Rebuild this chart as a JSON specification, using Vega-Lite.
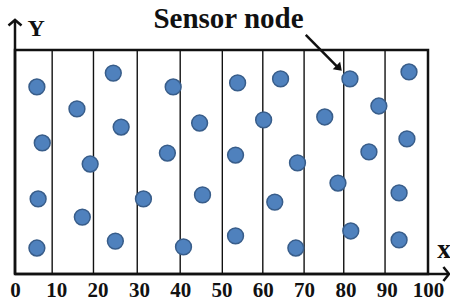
{
  "$schema": "https://vega.github.io/schema/vega-lite/v6.json",
  "width": 413,
  "height": 224,
  "autosize": {"type": "none"},
  "padding": {"left": 15, "top": 50, "right": 22, "bottom": 29},
  "background": "white",
  "config": {
    "view": {"stroke": "#111111", "strokeWidth": 2.5},
    "axis": {"grid": false}
  },
  "datasets": {
    "nodes": [
      {"x": 5.3, "y": 83.5}, {"x": 23.8, "y": 89.7}, {"x": 38.3, "y": 83.5}, {"x": 53.9, "y": 85.3},
      {"x": 64.3, "y": 87.1}, {"x": 81.1, "y": 87.1}, {"x": 95.4, "y": 90.2},
      {"x": 15.0, "y": 73.7}, {"x": 25.7, "y": 65.6}, {"x": 44.7, "y": 67.4}, {"x": 60.2, "y": 68.8},
      {"x": 75.0, "y": 70.1}, {"x": 88.1, "y": 75.0},
      {"x": 6.6, "y": 58.5}, {"x": 18.2, "y": 49.1}, {"x": 36.9, "y": 54.0}, {"x": 53.4, "y": 53.1},
      {"x": 68.4, "y": 49.6}, {"x": 85.7, "y": 54.5}, {"x": 94.9, "y": 60.3},
      {"x": 5.6, "y": 33.5}, {"x": 16.3, "y": 25.4}, {"x": 31.1, "y": 33.5}, {"x": 45.4, "y": 35.3},
      {"x": 62.9, "y": 32.1}, {"x": 78.2, "y": 40.6}, {"x": 93.0, "y": 36.2},
      {"x": 5.3, "y": 11.6}, {"x": 24.3, "y": 14.7}, {"x": 40.8, "y": 12.1}, {"x": 53.4, "y": 17.0},
      {"x": 68.0, "y": 11.6}, {"x": 81.3, "y": 19.2}, {"x": 93.0, "y": 15.2}
    ],
    "strips": [
      {"x": 9.0}, {"x": 19.0}, {"x": 29.6}, {"x": 40.0}, {"x": 50.2},
      {"x": 60.0}, {"x": 70.0}, {"x": 79.6}, {"x": 89.6}
    ],
    "axesLines": [
      {"x": 0, "x2": 105.0, "y": 0, "y2": 0},
      {"x": 0, "x2": 0, "y": 0, "y2": 113.2},
      {"x": 70.4, "x2": 78.6, "y": 106.7, "y2": 91.5}
    ],
    "heads": [
      {"x": 105.1, "y": 0, "dir": "right"},
      {"x": 0, "y": 113.4, "dir": "up"},
      {"x": 78.9, "y": 91.1, "dir": "downright"}
    ],
    "labels": [
      {"x": 51.7, "y": 109.8, "text": "Sensor node", "kind": "note"},
      {"x": 5.1, "y": 106.3, "text": "Y", "kind": "Y"},
      {"x": 103.9, "y": 7.1, "text": "x", "kind": "x"}
    ]
  },
  "layer": [
    {
      "data": {"name": "strips"},
      "mark": {"type": "rule", "color": "#111111", "strokeWidth": 1.4},
      "encoding": {
        "x": {
          "field": "x", "type": "quantitative",
          "scale": {"domain": [0, 100], "nice": false, "zero": false},
          "axis": {
            "values": [0, 10, 20, 30, 40, 50, 60, 70, 80, 90, 100],
            "title": null, "ticks": false, "tickSize": 0, "domain": false, "grid": false,
            "labelFlush": false, "labelFont": "Liberation Serif", "labelFontWeight": "bold",
            "labelFontSize": 21, "labelColor": "#111111", "labelPadding": 5
          }
        },
        "y": {"datum": 0, "type": "quantitative", "scale": {"domain": [0, 100], "nice": false, "zero": false}, "axis": null},
        "y2": {"datum": 100}
      }
    },
    {
      "data": {"name": "nodes"},
      "mark": {"type": "point", "shape": "circle", "filled": true, "fill": "#4f81bd", "stroke": "#385d8a", "strokeWidth": 1.5, "size": 250, "opacity": 1},
      "encoding": {
        "x": {"field": "x", "type": "quantitative"},
        "y": {"field": "y", "type": "quantitative"}
      }
    },
    {
      "data": {"name": "axesLines"},
      "mark": {"type": "rule", "color": "#111111", "strokeWidth": 2.5},
      "encoding": {
        "x": {"field": "x", "type": "quantitative"},
        "x2": {"field": "x2"},
        "y": {"field": "y", "type": "quantitative"},
        "y2": {"field": "y2"}
      }
    },
    {
      "data": {"name": "heads"},
      "transform": [{"filter": "datum.dir === 'right'"}],
      "mark": {"type": "point", "shape": "M-0.8,-1L0,0L-0.8,1", "filled": false, "stroke": "#111111", "strokeWidth": 2.5, "size": 200, "opacity": 1},
      "encoding": {
        "x": {"field": "x", "type": "quantitative"},
        "y": {"field": "y", "type": "quantitative"}
      }
    },
    {
      "data": {"name": "heads"},
      "transform": [{"filter": "datum.dir === 'up'"}],
      "mark": {"type": "point", "shape": "M-1,0.85L0,0L1,0.85", "filled": false, "stroke": "#111111", "strokeWidth": 2.5, "size": 170, "opacity": 1},
      "encoding": {
        "x": {"field": "x", "type": "quantitative"},
        "y": {"field": "y", "type": "quantitative"}
      }
    },
    {
      "data": {"name": "heads"},
      "transform": [{"filter": "datum.dir === 'downright'"}],
      "mark": {"type": "point", "shape": "M-1,-0.7L0,0L-1,0.7Z", "filled": true, "fill": "#111111", "stroke": "#111111", "strokeWidth": 1.5, "size": 120, "angle": 45, "opacity": 1},
      "encoding": {
        "x": {"field": "x", "type": "quantitative"},
        "y": {"field": "y", "type": "quantitative"}
      }
    },
    {
      "data": {"name": "labels"},
      "transform": [{"filter": "datum.kind === 'note'"}],
      "mark": {"type": "text", "font": "Liberation Serif", "fontWeight": "bold", "fontSize": 29, "color": "#111111", "align": "center", "baseline": "alphabetic"},
      "encoding": {
        "x": {"field": "x", "type": "quantitative"},
        "y": {"field": "y", "type": "quantitative"},
        "text": {"field": "text"}
      }
    },
    {
      "data": {"name": "labels"},
      "transform": [{"filter": "datum.kind === 'Y'"}],
      "mark": {"type": "text", "font": "Liberation Serif", "fontWeight": "bold", "fontSize": 24, "color": "#111111", "align": "center", "baseline": "alphabetic"},
      "encoding": {
        "x": {"field": "x", "type": "quantitative"},
        "y": {"field": "y", "type": "quantitative"},
        "text": {"field": "text"}
      }
    },
    {
      "data": {"name": "labels"},
      "transform": [{"filter": "datum.kind === 'x'"}],
      "mark": {"type": "text", "font": "Liberation Serif", "fontWeight": "bold", "fontSize": 27, "color": "#111111", "align": "center", "baseline": "alphabetic"},
      "encoding": {
        "x": {"field": "x", "type": "quantitative"},
        "y": {"field": "y", "type": "quantitative"},
        "text": {"field": "text"}
      }
    }
  ]
}
